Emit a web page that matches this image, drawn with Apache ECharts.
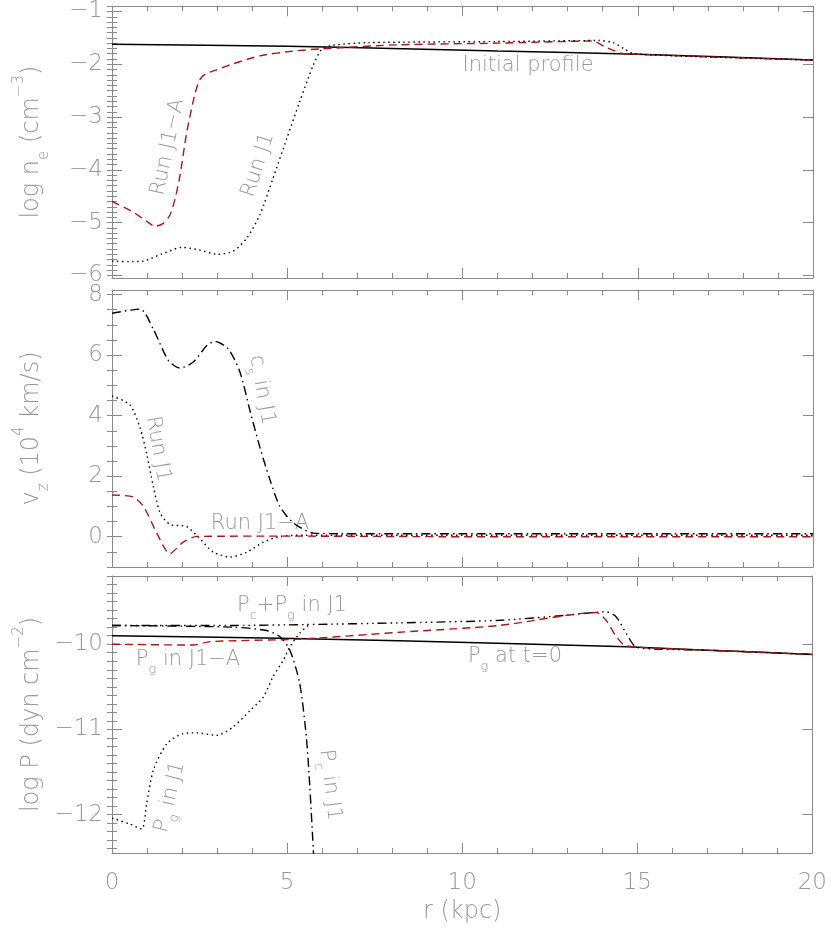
<!DOCTYPE html>
<html>
<head>
<meta charset="utf-8">
<script src="https://cdn.jsdelivr.net/npm/echarts@6/dist/echarts.min.js"></script>
<style>
  html, body { margin: 0; padding: 0; background: #fff; }
  #chart { width: 830px; height: 932px; }
</style>
</head>
<body>
<div id="chart"></div>
<script>
// ---- tick labels ----
const rTicks = [0, 5, 10, 15, 20]
const neTicks = [-6, -5, -4, -3, -2, -1]
const vzTicks = [0, 2, 4, 6, 8]
const pTicks = [-12, -11, -10]

// ---- panel 1 : log n_e ----
const neInitR = [0, 5, 8, 11, 15, 20]
const neInit = [-1.62, -1.66, -1.70, -1.75, -1.81, -1.92]

const neJ1AR = [0, 0.6, 1.0, 1.23, 1.45, 1.65, 1.8, 1.94, 2.13, 2.37, 2.5, 2.65, 3.0, 3.46, 4.22, 5.17, 5.93, 8.2, 11.0, 13.7, 14.1, 14.6, 15, 17, 20]
const neJ1A = [-4.6, -4.8, -4.98, -5.07, -5.02, -4.86, -4.55, -4.11, -3.3, -2.55, -2.3, -2.19, -2.1, -1.99, -1.84, -1.75, -1.71, -1.63, -1.60, -1.56, -1.68, -1.80, -1.81, -1.86, -1.92]

const neJ1R = [0, 0.5, 0.9, 1.4, 2.0, 2.5, 3.0, 3.46, 3.84, 4.22, 4.6, 4.98, 5.36, 5.74, 5.98, 6.3, 7.3, 11, 13.9, 14.3, 14.6, 14.87, 17, 20]
const neJ1 = [-5.73, -5.74, -5.73, -5.6, -5.47, -5.52, -5.6, -5.54, -5.3, -4.85, -4.15, -3.42, -2.7, -2.02, -1.72, -1.64, -1.59, -1.57, -1.55, -1.59, -1.70, -1.80, -1.86, -1.92]

// ---- panel 2 : v_z ----
const csR = [0, 0.8, 1.18, 1.61, 1.94, 2.32, 2.7, 2.94, 3.32, 3.65, 3.94, 4.22, 4.51, 4.79, 5.17, 5.74, 6.5, 10, 15, 20]
const csJ1 = [7.38, 7.52, 6.85, 5.82, 5.57, 5.77, 6.31, 6.45, 6.2, 5.44, 4.15, 2.95, 1.87, 1.0, 0.46, 0.12, 0.1, 0.1, 0.1, 0.1]

const vzJ1R = [0, 0.51, 0.8, 0.99, 1.18, 1.37, 1.65, 2.13, 2.51, 2.89, 3.37, 3.84, 4.32, 4.79, 5.5, 10, 20]
const vzJ1 = [4.65, 4.36, 3.6, 2.74, 1.66, 0.79, 0.41, 0.33, -0.07, -0.51, -0.67, -0.51, -0.18, 0.01, 0.05, 0.05, 0.05]

const vzJ1AR = [0, 0.61, 0.9, 1.27, 1.65, 2.03, 2.42, 5, 10, 20]
const vzJ1A = [1.38, 1.31, 1.0, 0.14, -0.56, -0.18, 0.01, 0.02, 0.0, 0.0]

// ---- panel 3 : log P ----
const pg0R = [0, 4.8, 8.2, 11, 14.7, 17, 20]
const pg0 = [-9.90, -9.93, -9.96, -9.99, -10.03, -10.07, -10.12]

const pcpgR = [0, 3.5, 5.5, 8.2, 11.07, 12.97, 14.11, 14.4, 14.68, 15.0, 17, 20]
const pcpgJ1 = [-9.78, -9.78, -9.77, -9.75, -9.72, -9.66, -9.62, -9.68, -9.87, -10.04, -10.07, -10.12]

const pcR = [0, 3.46, 4.41, 4.79, 5.08, 5.36, 5.55, 5.65, 5.76]
const pcJ1 = [-9.78, -9.80, -9.84, -9.91, -10.07, -10.46, -11.09, -11.68, -12.5]

const pgJ1R = [0, 0.51, 0.85, 0.99, 1.18, 1.56, 2.03, 2.42, 2.99, 3.46, 3.94, 4.32, 4.6, 4.89, 5.08, 5.36, 5.6]
const pgJ1 = [-12.04, -12.11, -12.17, -11.87, -11.48, -11.17, -11.05, -11.04, -11.07, -10.97, -10.78, -10.62, -10.38, -10.19, -10.03, -9.87, -9.78]

const pgJ1AR = [0, 2.32, 2.8, 5.36, 8.2, 11.07, 13.83, 14.11, 14.4, 14.68, 17, 20]
const pgJ1A = [-10.0, -10.01, -9.97, -9.94, -9.86, -9.78, -9.63, -9.72, -9.91, -10.02, -10.07, -10.12]

// ---- styling ----
const axisGray = '#8a8a8a'
const textGray = '#999999'
const red = '#b01414'
const font = "'DejaVu Sans', sans-serif"
const DASH = [8, 5]
const DOT = [1.5, 3.5]
const DASHDOT = [9, 4, 1.5, 4]
const DASH3DOT = [9, 4, 1.5, 4, 1.5, 4, 1.5, 4]

const minus = v => String(v).replace('-', '\u2212')

function minorValues(min, max, step) {
  let out = []
  for (let k = Math.ceil(min / step - 1e-9); k <= Math.floor(max / step + 1e-9); k++) {
    out.push(+(k * step).toFixed(4))
  }
  return out
}

const grids = [
  { left: 112, width: 701, top: 5, height: 273 },
  { left: 112, width: 701, top: 290, height: 277 },
  { left: 112, width: 701, top: 576, height: 277 }
]

const yRanges = [[-6.05, -0.9], [-1, 8.15], [-12.45, -9.2]]
const yMajor = [neTicks, vzTicks, pTicks]
const yMinorStep = [0.1, 0.5, 0.1]
const yNames = [
  '{t|log n}{sub|e}{t| (cm}{sup|\u22123}{t|)}',
  '{t|v}{sub|z}{t| (10}{sup|4}{t| km/s)}',
  '{t|log P (dyn cm}{sup|\u22122}{t|)}'
]
function rich(size, subSize, lh) {
  const base = { color: textGray, fill: textGray, fontFamily: font, fontWeight: 200 }
  return {
    t: Object.assign({ fontSize: size, lineHeight: lh, verticalAlign: 'middle' }, base),
    sub: Object.assign({ fontSize: subSize, lineHeight: subSize, verticalAlign: 'bottom' }, base),
    sup: Object.assign({ fontSize: subSize, lineHeight: subSize, verticalAlign: 'top' }, base)
  }
}
const nameRich = rich(24, 15, 40)
const labRich = rich(21, 13, 32)

let xAxes = []
let yAxes = []
grids.forEach((g, i) => {
  ;['bottom', 'top'].forEach(pos => {
    xAxes.push({
      gridIndex: i, type: 'value', position: pos, min: 0, max: 20, interval: 5,
      axisLine: { show: true, onZero: false, lineStyle: { color: axisGray, width: 1 } },
      axisTick: { show: true, inside: true, length: 10, lineStyle: { color: axisGray } },
      minorTick: { show: true, splitNumber: 5, length: 5, lineStyle: { color: axisGray } },
      splitLine: { show: false },
      axisLabel: {
        show: i === 2 && pos === 'bottom', margin: 19, fontSize: 23, color: textGray,
        fontFamily: font, fontWeight: 200, customValues: rTicks
      },
      name: i === 2 && pos === 'bottom' ? 'r (kpc)' : '',
      nameLocation: 'middle', nameGap: 47,
      nameTextStyle: { fontSize: 24, color: textGray, fontFamily: font, fontWeight: 200 }
    })
  })
  const [ymin, ymax] = yRanges[i]
  const minor = minorValues(ymin, ymax, yMinorStep[i])
  ;['left', 'right'].forEach(pos => {
    yAxes.push({
      gridIndex: i, type: 'value', position: pos, min: ymin, max: ymax,
      axisLine: { show: true, onZero: false, lineStyle: { color: axisGray, width: 1 } },
      axisTick: { show: true, inside: true, length: 10, customValues: yMajor[i], lineStyle: { color: axisGray } },
      splitLine: { show: false },
      axisLabel: {
        show: pos === 'left', customValues: yMajor[i], formatter: minus, margin: 9,
        fontSize: 23, color: textGray, fontFamily: font, fontWeight: 200
      },
      name: pos === 'left' ? yNames[i] : '',
      nameLocation: 'middle', nameRotate: 90, nameGap: 60,
      nameTextStyle: { rich: nameRich }
    })
    yAxes.push({
      gridIndex: i, type: 'value', position: pos, min: ymin, max: ymax,
      axisLine: { show: false },
      axisTick: { show: true, inside: true, length: 5, customValues: minor, lineStyle: { color: axisGray } },
      splitLine: { show: false },
      axisLabel: { show: false, customValues: minor }
    })
  })
})

function pairs(xs, ys) {
  return xs.map((x, k) => [x, ys[k]])
}

function line(name, grid, xs, ys, color, dash, width) {
  return {
    name: name, type: 'line', xAxisIndex: grid * 2, yAxisIndex: grid * 4,
    data: pairs(xs, ys), showSymbol: false, symbol: 'none',
    smooth: 0.25, clip: true, silent: true,
    lineStyle: { color: color, width: width || 1.4, type: dash }
  }
}

const series = [
  line('Initial profile', 0, neInitR, neInit, '#000', 'solid', 1.5),
  line('Run J1-A', 0, neJ1AR, neJ1A, red, DASH),
  line('Run J1', 0, neJ1R, neJ1, '#000', DOT),

  line('cs in J1', 1, csR, csJ1, '#000', DASHDOT),
  line('vz J1', 1, vzJ1R, vzJ1, '#000', DOT),
  line('vz J1-A', 1, vzJ1AR, vzJ1A, red, DASH),

  line('Pg t=0', 2, pg0R, pg0, '#000', 'solid', 1.5),
  line('Pc+Pg J1', 2, pcpgR, pcpgJ1, '#000', DASH3DOT),
  line('Pc J1', 2, pcR, pcJ1, '#000', DASHDOT),
  line('Pg J1', 2, pgJ1R, pgJ1, '#000', DOT),
  line('Pg J1-A', 2, pgJ1AR, pgJ1A, red, DASH)
]

// ---- curve labels ----
function label(text, x, y, deg) {
  return {
    type: 'text', x: x, y: y, rotation: (deg || 0) * Math.PI / 180, silent: true,
    style: { text: text, rich: labRich, fill: textGray, align: 'center', verticalAlign: 'middle' }
  }
}
const labels = [
  label('{t|Initial profile}', 528, 66, 0),
  label('{t|Run J1\u2212A}', 168, 147, 78),
  label('{t|Run J1}', 258, 165, 72),
  label('{t|c}{sub|s}{t| in J1}', 262, 390, -80),
  label('{t|Run J1}', 158, 449, -80),
  label('{t|Run J1\u2212A}', 260, 524, 0),
  label('{t|P}{sub|c}{t|+P}{sub|g}{t| in J1}', 292, 606, 0),
  label('{t|P}{sub|g}{t| in J1\u2212A}', 188, 660, 0),
  label('{t|P}{sub|g}{t| at t=0}', 515, 657, 0),
  label('{t|P}{sub|g}{t| in J1}', 170, 797, 76),
  label('{t|P}{sub|c}{t| in J1}', 330, 785, -83)
]

const myChart = echarts.init(document.getElementById('chart'), null, { renderer: 'canvas' })
myChart.setOption({
  animation: false,
  backgroundColor: '#fff',
  grid: grids,
  xAxis: xAxes,
  yAxis: yAxes,
  series: series,
  graphic: labels
})
</script>
</body>
</html>
